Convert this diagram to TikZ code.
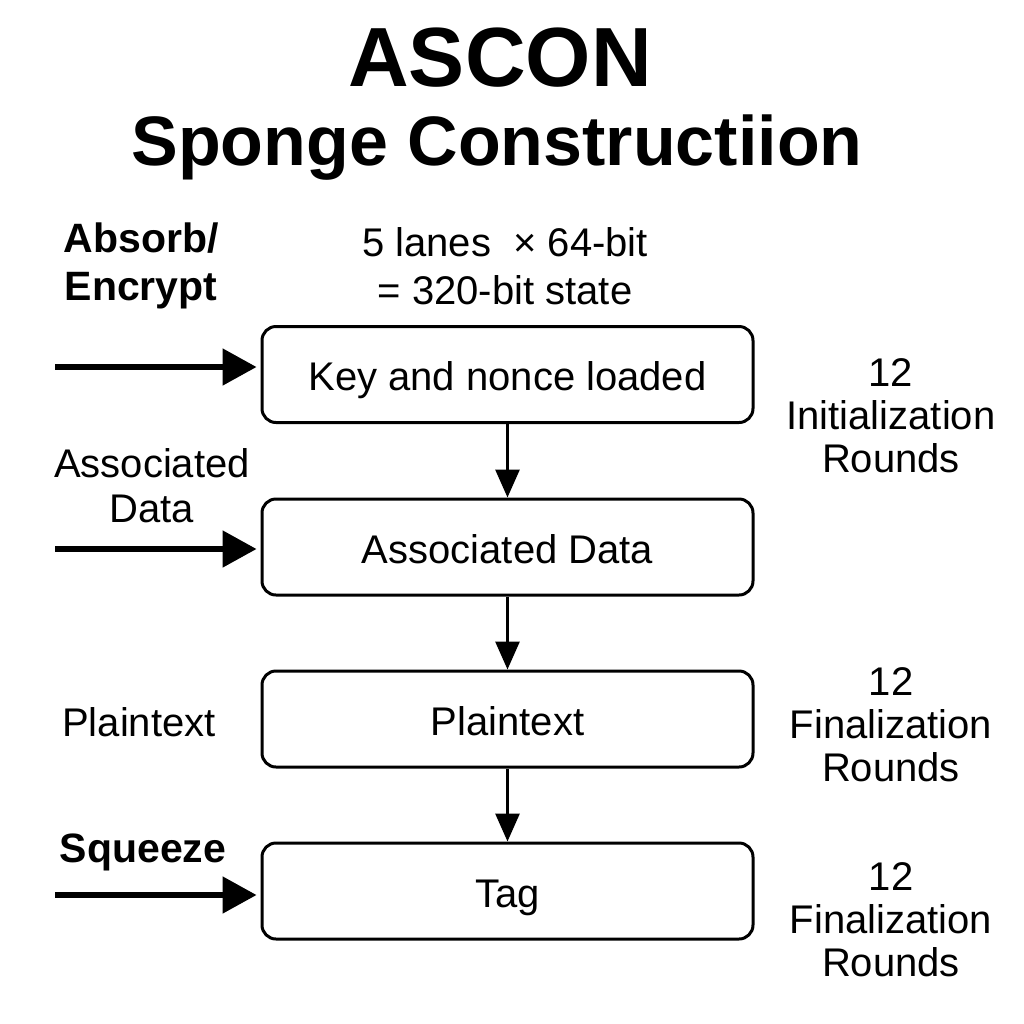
\documentclass[tikz,border=0pt]{standalone}
\usepackage{fontspec}
\setmainfont{Liberation Sans}
\usetikzlibrary{arrows.meta}

\tikzset{
  stagebox/.style={draw,line width=1.5pt,rounded corners=7pt,
    minimum width=245.5pt,minimum height=48pt,text height=16pt,text depth=0pt,
    font=\fontsize{20}{24}\selectfont},
  sidetext/.style={align=center,font=\fontsize{20}{21.5}\selectfont},
  boldtext/.style={align=center,font=\fontsize{20.5}{24}\selectfont\bfseries},
  feedarrow/.style={line width=2.6pt,-{Triangle[length=17pt,width=18pt]},shorten >=2pt},
  flowarrow/.style={line width=1.5pt,-{Triangle[length=14pt,width=12pt]}}
}

\begin{document}
\begin{tikzpicture}[x=0.5pt,y=-0.5pt]
\useasboundingbox (0,0) rectangle (1024,1024);

\node (title) at (500,58) {\fontsize{42}{44}\selectfont\bfseries ASCON};

\node (subtitle) at (497,148) {\fontsize{35}{38}\selectfont\bfseries Sponge Constructiion};

\node[boldtext] (absorb) at (141,266) {Absorb/\\Encrypt};

\node[sidetext,font=\fontsize{20}{24}\selectfont] (state) at (505,266) {5 lanes\ \ × 64-bit\\= 320-bit state};

\node[stagebox] (key) at (507.5,374.5) {Key and nonce loaded};

\node[stagebox] (ad) at (507.5,547) {Associated Data};

\node[stagebox] (pt) at (507.5,719) {Plaintext};

\node[stagebox] (tag) at (507.5,891) {Tag};

\node[sidetext,font=\fontsize{20}{22.5}\selectfont] (adlabel) at (152,486) {Associated\\Data};

\node[sidetext] (ptlabel) at (139,722) {Plaintext};

\node[boldtext] (squeeze) at (143,852) {Squeeze};

\node[sidetext] (init) at (891,416) {12\\Initialization\\Rounds};

\node[sidetext] (fin1) at (891,725) {12\\Finalization\\Rounds};

\node[sidetext] (fin2) at (891,920) {12\\Finalization\\Rounds};

\coordinate (in1) at (55,367);
\coordinate (in2) at (55,549);
\coordinate (in3) at (55,895);

\draw[feedarrow] (in1) -- (key.west |- in1);
\draw[feedarrow] (in2) -- (ad.west |- in2);
\draw[feedarrow] (in3) -- (tag.west |- in3);

\draw[flowarrow] (key) -- (ad);
\draw[flowarrow] (ad) -- (pt);
\draw[flowarrow] (pt) -- (tag);
\end{tikzpicture}
\end{document}
